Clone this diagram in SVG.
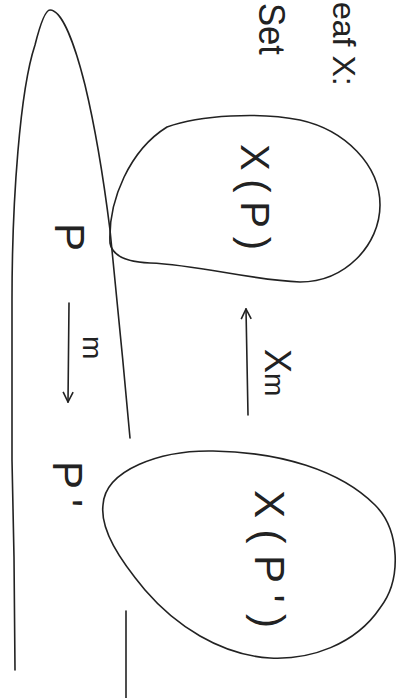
<svg xmlns="http://www.w3.org/2000/svg" width="408" height="698" viewBox="0 0 408 698">
<style>
.ln{fill:none;stroke:#222;stroke-width:1.6;stroke-linecap:round;stroke-linejoin:round}
.tx{font-family:"Liberation Sans",Arial,sans-serif;fill:#222}
</style>
<defs>
<marker id="ah" viewBox="0 0 12 12" refX="11" refY="6" markerWidth="12" markerHeight="12" markerUnits="userSpaceOnUse" orient="auto">
<path d="M1,1 L11,6 L1,11" fill="none" stroke="#222" stroke-width="1.6"/>
</marker>
</defs>
<rect width="408" height="698" fill="#fff"/>
<g id="title">
<text class="tx" font-size="32" transform="translate(333,2) rotate(90)">eaf X:</text>
<text class="tx" font-size="36" textLength="52" lengthAdjust="spacingAndGlyphs" transform="translate(259,3) rotate(90)">Set</text>
</g>
<g id="category">
<path class="ln" d="M15,670 L14,557 L12,460 L12,300 C12,200 20,90 35,45 C40,25 45,10 50,10 C62,10 75,45 85,85 C97,135 105,190 110,230 C116,290 124,370 130,438"/>
<path class="ln" d="M126,611 L126,698"/>
</g>
<g id="P">
<text class="tx" font-size="42" transform="translate(55,223) rotate(90)">P</text>
</g>
<g id="Pprime">
<text class="tx" font-size="42" textLength="46" transform="translate(53,461) rotate(90)">P'</text>
</g>
<g id="XP">
<path class="ln" d="M110,243 C108,200 130,150 167,127 C200,115 260,112 300,120 C345,130 380,165 380,205 C380,245 345,282 300,282 C250,280 200,265 150,263 C125,262 112,255 110,243 Z"/>
<text class="tx" font-size="40" textLength="106" transform="translate(241,144) rotate(90)">X(P)</text>
</g>
<g id="XPprime">
<path class="ln" d="M103,505 C105,470 160,450 213,451 C280,452 340,470 375,505 C400,530 402,580 380,608 C355,645 310,660 270,658 C220,655 175,625 145,590 C120,560 100,530 103,505 Z"/>
<text class="tx" font-size="42" textLength="138" transform="translate(255,490) rotate(90)">X(P')</text>
</g>
<g id="connectors">
<path class="ln" d="M69,303 L68,402" marker-end="url(#ah)"/>
<text class="tx" font-size="28" transform="translate(83,336) rotate(90)">m</text>
<path class="ln" d="M248,415 L246,309" marker-end="url(#ah)"/>
<text class="tx" font-size="36" transform="translate(265,349) rotate(90)">X<tspan font-size="28">m</tspan></text>
</g>
</svg>
